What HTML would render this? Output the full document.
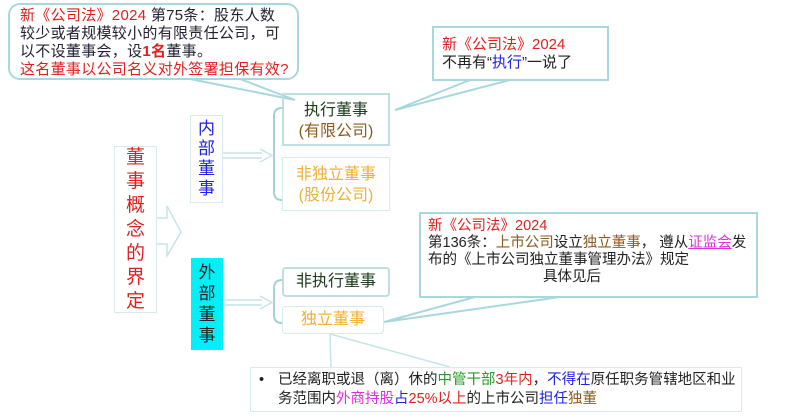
<!DOCTYPE html>
<html><head><meta charset="utf-8"><style>
body{margin:0;width:800px;height:420px;background:#fff;position:relative;overflow:hidden;font-family:"Liberation Sans","Noto Sans CJK SC",sans-serif;}
.a{position:absolute;box-sizing:border-box;}
.r{color:#e02020}.k{color:#222}.b{color:#2020e0}.o{color:#f0b030}.br{color:#8a5a20}.g{color:#1a6a1a}.m{color:#e030e0}
.vt{display:flex;flex-direction:column;align-items:center;justify-content:center;}
</style></head><body>
<svg class="a" style="left:0;top:0" width="800" height="420">
<g fill="#fff" stroke="#a8d8dc" stroke-width="2">
<path d="M190 79 L295 100 L240 79 Z"/>
<path d="M470 80 L395 110 L510 80 Z"/>
<path d="M475 297 L384 322 L560 297 Z"/>
</g>
<g stroke="#c8e4e6" stroke-width="1.5" fill="none">
<path d="M330 334 L331 367 M330 334 L450 367"/>
</g>
<g stroke="#a8d0d4" stroke-width="2" fill="none">
<path d="M282 108 Q274 108 274 116 L274 192 Q274 200 282 200"/>
<path d="M282 280 Q274 280 274 288 L274 315 Q274 323 282 323"/>
</g>
<g stroke="#c8e4e6" stroke-width="1.5" fill="none">
<path d="M222 153 L262 153 M222 158 L262 158 M260 149 L272 155.5 L260 162"/>
<path d="M222 300 L262 300 M222 305 L262 305 M260 296 L272 302.5 L260 309"/>
<path d="M157 218 L167 218 L167 206 L181 232 L167 256 L167 244 L157 244"/>
</g>
</svg>
<div class="a" style="left:8px;top:3px;width:291px;height:77px;border:2px solid #a8d8dc;border-radius:12px;padding:2px 0 0 10px;font-size:15px;line-height:18px;letter-spacing:0.3px;color:#223;white-space:nowrap">
<span class="r">新《公司法》2024</span> 第75条：股东人数<br>较少或者规模较小的有限责任公司，可<br>以不设董事会，设<b class="r">1名</b>董事。<br><span class="r">这名董事以公司名义对外签署担保有效?</span></div>
<div class="a" style="left:432px;top:26px;width:177px;height:55px;border:2px solid #a8d8dc;padding:8px 0 0 8px;font-size:15px;line-height:18px;color:#222"><span class="r">新《公司法》2024</span><br>不再有“<span class="b">执行</span>”一说了</div>
<div class="a" style="left:419px;top:212px;width:339px;height:86px;border:2px solid #a8d8dc;padding:4px 0 0 7px;font-size:14.5px;line-height:17px;color:#222;white-space:nowrap"><span class="r">新《公司法》2024</span><br>第136条：<span class="br">上市公司</span>设立<span class="br">独立董事</span>， 遵从<span class="m" style="text-decoration:underline">证监会</span>发<br>布的《上市公司独立董事管理办法》规定<br><div style="text-align:center;padding-right:40px">具体见后</div></div>
<div class="a" style="left:282px;top:93px;width:108px;height:53px;border:2px solid #c0dde0;text-align:center;font-size:16px;line-height:21px;padding-top:5px"><span style="color:#1a3a1a">执行董事</span><br><span class="br">(有限公司)</span></div>
<div class="a" style="left:282px;top:157px;width:108px;height:54px;border:1px solid #d8eaec;text-align:center;font-size:16px;line-height:21px;padding-top:6px"><span class="o">非独立董事<br>(股份公司)</span></div>
<div class="a" style="left:282px;top:267px;width:108px;height:30px;border:2px solid #c0dde0;border-radius:4px;text-align:center;font-size:16px;line-height:26px;color:#1a3a1a">非执行董事</div>
<div class="a" style="left:282px;top:306px;width:102px;height:28px;border:1px solid #d8eaec;border-radius:4px;text-align:center;font-size:16px;line-height:26px"><span class="o">独立董事</span></div>
<div class="a vt b" style="left:190px;top:115px;width:33px;height:88px;border:1px solid #d8eaec;font-size:17px;line-height:20px">内<br>部<br>董<br>事</div>
<div class="a vt" style="left:191px;top:258px;width:32px;height:92px;background:#00f0f8;font-size:17px;line-height:21px;color:#222">外<br>部<br>董<br>事</div>
<div class="a vt r" style="left:114px;top:146px;width:43px;height:167px;border:1px solid #d8eaec;font-size:19px;line-height:24px">董<br>事<br>概<br>念<br>的<br>界<br>定</div>
<div class="a" style="left:250px;top:367px;width:492px;height:45px;border:1px solid #d8eaec;padding:3px 0 0 27px;font-size:14.5px;line-height:19px;color:#222;white-space:nowrap"><span class="a" style="left:8px;top:3px">•</span>已经离职或退（离）休的<span style="color:#2a9a2a">中管干部</span><span class="r">3年内</span>，<span class="b">不得在</span>原任职务管辖地区和业<br>务范围内<span class="m">外商持股</span><span class="b">占</span><span class="r">25%以上</span>的上市公司<span class="b">担任</span><span class="br">独董</span></div>
</body></html>
